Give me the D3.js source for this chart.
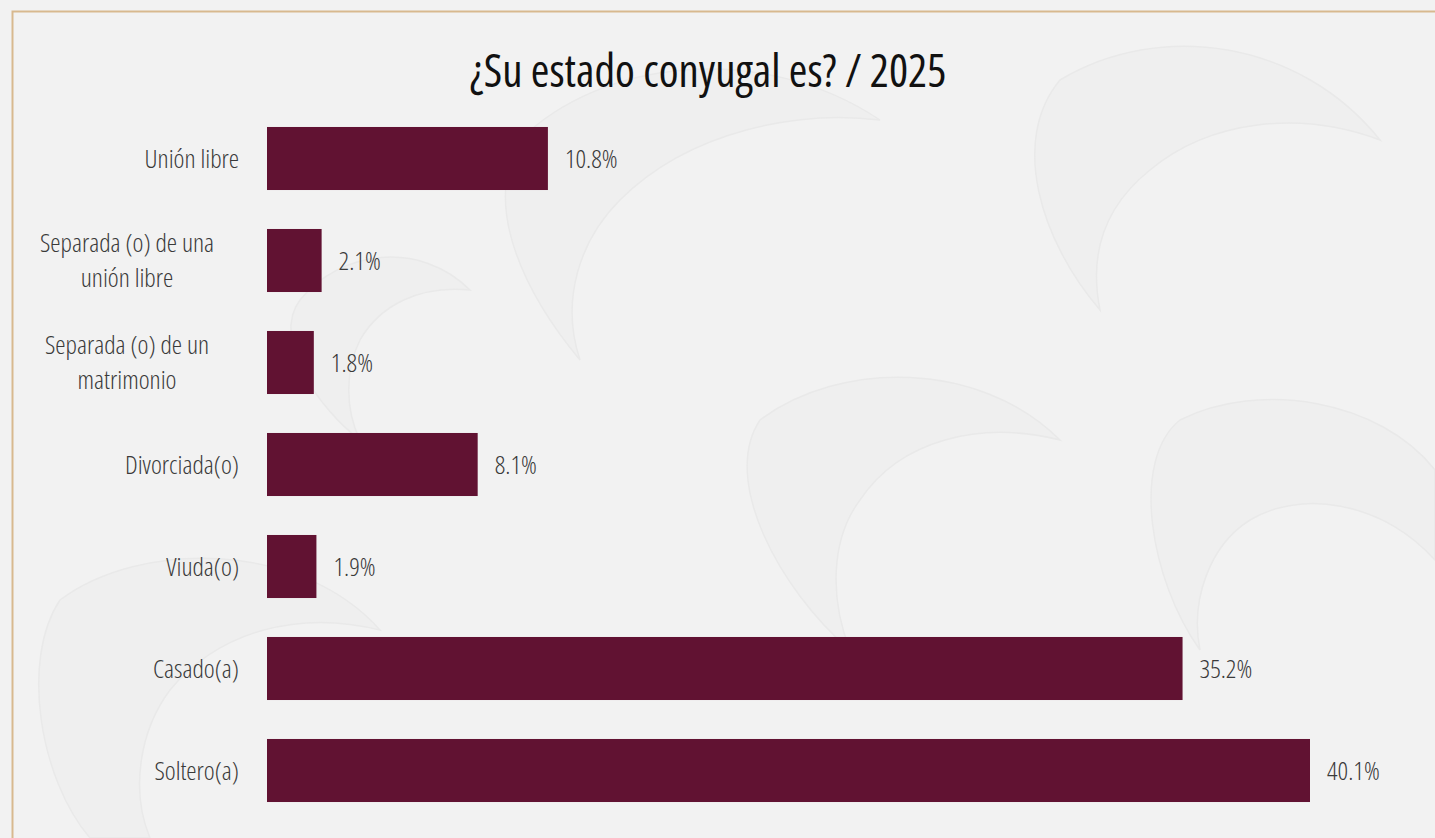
<!DOCTYPE html>
<html>
<head>
<meta charset="utf-8">
<script src="https://cdn.jsdelivr.net/npm/d3@7"></script>
<style>
  html, body { margin: 0; padding: 0; background: #f2f2f2; }
  svg { display: block; }
  .cond { font-family: "Open Sans", sans-serif; font-stretch: 75%; }
</style>
</head>
<body>
<svg id="chart" width="1435" height="838"></svg>
<script>
// Survey answers, top to bottom
const categories = [
  "Unión libre",
  "Separada (o) de una unión libre",
  "Separada (o) de un matrimonio",
  "Divorciada(o)",
  "Viuda(o)",
  "Casado(a)",
  "Soltero(a)"
];
// Wrapped label lines for each category
const labelLines = [
  ["Unión libre"],
  ["Separada (o) de una", "unión libre"],
  ["Separada (o) de un", "matrimonio"],
  ["Divorciada(o)"],
  ["Viuda(o)"],
  ["Casado(a)"],
  ["Soltero(a)"]
];
const values = [10.8, 2.1, 1.8, 8.1, 1.9, 35.2, 40.1];
const title = "¿Su estado conyugal es? / 2025";

const W = 1435, H = 838;
const svg = d3.select("#chart");

// page background
svg.append("rect").attr("width", W).attr("height", H).attr("fill", "#f2f2f2");

// faint decorative swirls in the background
const deco = svg.append("g").attr("fill", "#efefef").attr("stroke", "#e9e9e9").attr("stroke-width", 1.5);
const swirls = [
  "M520,140 C600,60 760,40 880,120 C800,110 690,130 620,200 C580,240 560,300 580,360 C530,300 480,210 520,140 Z",
  "M1060,80 C1160,20 1300,40 1380,140 C1300,110 1210,120 1150,170 C1100,210 1090,260 1100,310 C1040,240 1010,140 1060,80 Z",
  "M760,420 C840,360 980,360 1060,440 C980,420 900,440 860,500 C830,540 830,600 850,650 C780,590 720,480 760,420 Z",
  "M60,600 C140,540 300,540 380,630 C300,610 220,630 170,690 C140,730 130,790 150,838 L90,838 C40,780 20,660 60,600 Z",
  "M1180,420 C1260,380 1380,400 1435,470 L1435,560 C1380,500 1300,490 1250,520 C1210,545 1190,600 1200,650 C1150,580 1130,460 1180,420 Z",
  "M300,300 C340,250 420,240 470,290 C420,285 380,305 360,340 C345,370 345,410 360,440 C320,410 270,340 300,300 Z"
];
deco.selectAll("path").data(swirls).join("path").attr("d", d => d);

// thin gold frame along the top and left edges
svg.append("path")
  .attr("d", `M12.5,${H} L12.5,11.5 L${W},11.5`)
  .attr("fill", "none").attr("stroke", "#d8b98f").attr("stroke-width", 2);

const margin = { top: 127, left: 267 };
const plotRight = 1310;
const step = 102;

const x = d3.scaleLinear()
  .domain([0, d3.max(values)])
  .range([margin.left, plotRight]);

const y = d3.scaleBand()
  .domain(categories)
  .range([margin.top - 19.5, margin.top - 19.5 + step * categories.length])
  .paddingInner(0.382)
  .paddingOuter(0.191);

// title
svg.append("text")
  .attr("class", "cond")
  .attr("x", 708).attr("y", 87)
  .attr("text-anchor", "middle")
  .attr("font-size", 45)
  .attr("fill", "#111")
  .text(title);

// bars
svg.append("g").selectAll("rect")
  .data(categories)
  .join("rect")
  .attr("x", x(0))
  .attr("y", d => y(d))
  .attr("width", (d, i) => x(values[i]) - x(0))
  .attr("height", y.bandwidth())
  .attr("fill", "#611232");

// value labels
svg.append("g").selectAll("text")
  .data(categories)
  .join("text")
  .attr("class", "cond")
  .attr("x", (d, i) => x(values[i]) + 17)
  .attr("y", d => y(d) + y.bandwidth() / 2)
  .attr("dy", "0.36em")
  .attr("font-size", 26)
  .attr("font-weight", 300)
  .attr("fill", "#3a3a3a")
  .text((d, i) => values[i].toFixed(1) + "%");

// category labels; wrapped ones are centred as a block
const lab = svg.append("g").selectAll("text")
  .data(categories)
  .join("text")
  .attr("class", "cond")
  .attr("font-size", 26)
  .attr("font-weight", 300)
  .attr("fill", "#3a3a3a");

lab.each(function(d, i) {
  const lines = labelLines[i];
  const t = d3.select(this);
  const cy = y(d) + y.bandwidth() / 2;
  const lh = 35;
  const multi = lines.length > 1;
  lines.forEach((ln, k) => {
    t.append("tspan")
      .attr("x", multi ? 127 : 239)
      .attr("text-anchor", multi ? "middle" : "end")
      .attr("y", cy + (k - (lines.length - 1) / 2) * lh)
      .attr("dy", "0.36em")
      .text(ln);
  });
});
</script>
</body>
</html>
